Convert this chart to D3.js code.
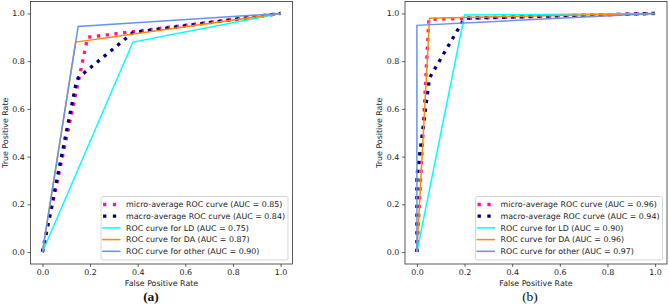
<!DOCTYPE html>
<html>
<head>
<meta charset="utf-8">
<script src="https://cdn.jsdelivr.net/npm/d3@7"></script>
<style>
  body { margin: 0; background: #fff; }
  svg { display: block; font-family: "DejaVu Sans", sans-serif; }
</style>
</head>
<body>
<script>
// tick values and legend labels shared by both panels
var tickValues = [0, 0.2, 0.4, 0.6, 0.8, 1.0];
var seriesNames = ["micro-average ROC curve", "macro-average ROC curve",
  "ROC curve for LD", "ROC curve for DA", "ROC curve for other"];
var seriesColors = ["deeppink", "navy", "aqua", "darkorange", "cornflowerblue"];

// panel (a)
var aucA = [0.85, 0.84, 0.75, 0.87, 0.90];
var microFprA = [0, 0.19, 1],                 microTprA = [0, 0.90, 1];
var macroFprA = [0, 0.14, 0.15, 0.38, 1],     macroTprA = [0, 0.70, 0.73, 0.92, 1];
var ldFprA = [0, 0.38, 1],                    ldTprA = [0, 0.88, 1];
var daFprA = [0, 0.14, 1],                    daTprA = [0, 0.88, 1];
var otherFprA = [0, 0.15, 1],                 otherTprA = [0, 0.945, 1];

// panel (b)
var aucB = [0.96, 0.94, 0.90, 0.96, 0.97];
var microFprB = [0, 0.05, 1],                 microTprB = [0, 0.975, 1];
var macroFprB = [0, 0, 0.053, 0.2, 1],        macroTprB = [0, 0.32, 0.73, 0.98, 1];
var ldFprB = [0, 0.2, 1],                     ldTprB = [0, 0.993, 1];
var daFprB = [0, 0.053, 1],                   daTprB = [0, 0.98, 1];
var otherFprB = [0, 0, 1],                    otherTprB = [0, 0.95, 1];

var svgWidth = 669;
var svgHeight = 304;
var fontSize = 7.9;
var textColor = "#1a1a1a";

var svg = d3.select("body")
  .append("svg")
  .attr("width", svgWidth)
  .attr("height", svgHeight);

function zipPts(fpr, tpr) {
  return fpr.map((f, i) => [f, tpr[i]]);
}

function drawPanel(left, right, series, auc, caption, captionX, bold) {
  var top = 1.5, bottom = 264;

  var x = d3.scaleLinear().domain([-0.05, 1.05]).range([left, right]);
  var y = d3.scaleLinear().domain([-0.05, 1.05]).range([bottom, top]);

  var g = svg.append("g");

  // curves
  var line = d3.line().x(d => x(d[0])).y(d => y(d[1]));
  series.forEach(function(pts, i) {
    var dotted = i < 2;
    g.append("path")
      .datum(pts)
      .attr("d", line)
      .attr("fill", "none")
      .attr("stroke", seriesColors[i])
      .attr("stroke-width", dotted ? 3.3 : 1.5)
      .attr("stroke-dasharray", dotted ? "3.3,5.5" : null);
  });

  // axes
  var xAxis = d3.axisBottom(x).tickValues(tickValues).tickFormat(d3.format(".1f"))
    .tickSizeInner(2.9).tickSizeOuter(0).tickPadding(2.9);
  var yAxis = d3.axisLeft(y).tickValues(tickValues).tickFormat(d3.format(".1f"))
    .tickSizeInner(2.9).tickSizeOuter(0).tickPadding(2.9);

  [g.append("g").attr("transform", `translate(0, ${bottom})`).call(xAxis),
   g.append("g").attr("transform", `translate(${left}, 0)`).call(yAxis)]
    .forEach(function(ax) {
      ax.select(".domain").remove();
      ax.selectAll("line").attr("stroke", "#333").attr("stroke-width", 0.8);
      ax.selectAll("text").attr("font-size", fontSize).attr("fill", textColor)
        .attr("font-family", "DejaVu Sans");
    });

  // frame
  g.append("rect")
    .attr("x", left).attr("y", top)
    .attr("width", right - left).attr("height", bottom - top)
    .attr("fill", "none").attr("stroke", "#333").attr("stroke-width", 0.8);

  // axis titles
  g.append("text")
    .attr("x", (left + right) / 2).attr("y", 286)
    .attr("text-anchor", "middle").attr("font-size", fontSize).attr("fill", textColor)
    .text("False Positive Rate");
  g.append("text")
    .attr("transform", `translate(${left - 23}, ${(top + bottom) / 2}) rotate(-90)`)
    .attr("text-anchor", "middle").attr("font-size", fontSize).attr("fill", textColor)
    .text("True Positive Rate");

  // legend
  var rowH = 11.7;
  var boxRight = right - 4.5, boxBottom = bottom - 4;
  var boxH = rowH * 5 + 5;
  var lg = g.append("g");
  var box = lg.append("rect")
    .attr("y", boxBottom - boxH).attr("height", boxH)
    .attr("rx", 2).attr("fill", "#fff").attr("fill-opacity", 0.8)
    .attr("stroke", "#ccc").attr("stroke-width", 0.8);
  var texts = lg.selectAll("text.lbl")
    .data(seriesNames)
    .enter()
    .append("text")
    .attr("class", "lbl")
    .attr("y", (d, i) => boxBottom - boxH + 8 + i * rowH)
    .attr("dy", "0.35em")
    .attr("font-size", fontSize).attr("fill", textColor)
    .text((d, i) => `${d} (AUC = ${auc[i].toFixed(2)})`);
  var maxW = d3.max(texts.nodes(), n => n.getComputedTextLength());
  var boxLeft = boxRight - (maxW + 28);
  box.attr("x", boxLeft).attr("width", boxRight - boxLeft);
  texts.attr("x", boxLeft + 25);
  seriesNames.forEach(function(d, i) {
    var dotted = i < 2;
    var yy = boxBottom - boxH + 8 + i * rowH;
    lg.append("line")
      .attr("x1", boxLeft + (dotted ? 2 : 1)).attr("x2", boxLeft + 19.5)
      .attr("y1", yy).attr("y2", yy)
      .attr("stroke", seriesColors[i])
      .attr("stroke-width", dotted ? 3.3 : 1.5)
      .attr("stroke-dasharray", dotted ? "3.3,6.5" : null);
  });

  // panel caption
  svg.append("text")
    .attr("x", captionX).attr("y", 301)
    .attr("text-anchor", "middle")
    .attr("font-family", "Liberation Serif, serif")
    .attr("font-weight", bold ? "bold" : "normal")
    .attr("font-size", 13.5)
    .attr("fill", "#111")
    .text(caption);
}

drawPanel(30.5, 292.5, [
  zipPts(microFprA, microTprA), zipPts(macroFprA, macroTprA),
  zipPts(ldFprA, ldTprA), zipPts(daFprA, daTprA), zipPts(otherFprA, otherTprA)
], aucA, "(a)", 151, true);

drawPanel(405, 667, [
  zipPts(microFprB, microTprB), zipPts(macroFprB, macroTprB),
  zipPts(ldFprB, ldTprB), zipPts(daFprB, daTprB), zipPts(otherFprB, otherTprB)
], aucB, "(b)", 530, false);
</script>
</body>
</html>
